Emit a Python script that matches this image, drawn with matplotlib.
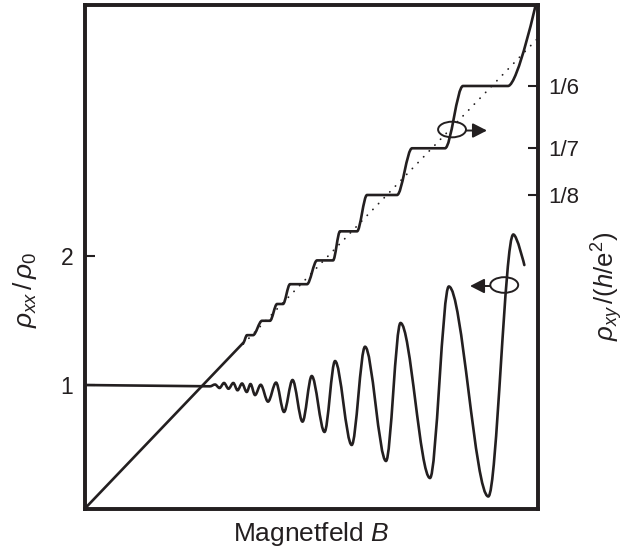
import matplotlib
matplotlib.use("Agg")
import matplotlib.pyplot as plt
from matplotlib.path import Path
from matplotlib.patches import PathPatch, Ellipse

plt.rcParams["font.family"] = ["Liberation Sans", "DejaVu Sans"]
plt.rcParams["mathtext.fontset"] = "custom"
plt.rcParams["mathtext.rm"] = "Liberation Sans"
plt.rcParams["mathtext.it"] = "Liberation Sans:italic"
plt.rcParams["mathtext.bf"] = "Liberation Sans:bold"

INK = "#231f20"

# rho_xx / rho_0 (left axis): flat part, then the extrema of the oscillations
B_xx_flat = [0.0, 0.2767]
rho_xx_flat = [1.000, 0.990]
B_xx_ext = [0.2878, 0.2977, 0.3076, 0.3175, 0.3281, 0.3374, 0.3473, 0.3577,
            0.3660, 0.3760, 0.3885, 0.4046, 0.4223, 0.4399, 0.4587, 0.4807,
            0.5010, 0.5292, 0.5524, 0.5892, 0.6185, 0.6648, 0.6968, 0.7618,
            0.8033, 0.8904, 0.9455]
rho_xx_ext = [1.004, 0.977, 1.016, 0.971, 1.016, 0.959, 1.012, 0.946,
              1.008, 0.922, 1.002, 0.871, 1.019, 0.791, 1.039, 0.716,
              1.070, 0.636, 1.186, 0.535, 1.297, 0.411, 1.481, 0.279,
              1.764, 0.136, 2.167]
B_xx_end = 0.9698
rho_xx_end = 1.930

# rho_xy / (h/e^2) (right axis): classical part and plateaus at 1/nu
B_hall_lin = [0.0, 0.3495]
rho_hall_lin = [0.005, 0.0684]
nu = [14, 13, 12, 11, 10, 9, 8, 7, 6]
B_plat_start = [0.3583, 0.3914, 0.4245, 0.4531, 0.5127, 0.5634, 0.6229, 0.7222, 0.8346]
B_plat_end = [0.3716, 0.4090, 0.4377, 0.4906, 0.5480, 0.6009, 0.6891, 0.7949, 0.9338]
B_hall_end = 0.998
rho_hall_end = 0.200

# classical Hall line (dotted)
B_classic = [0.35, 1.0]
rho_classic = [0.068, 0.185]

left_ticks = [1, 2]
left_ticklabels = ["1", "2"]
right_ticks = [1 / 6, 1 / 7, 1 / 8]
right_ticklabels = ["1/6", "1/7", "1/8"]


def add_curve(verts, codes, x0, y0, x1, y1, end_tangent=False):
    dx = x1 - x0
    c2 = (x1, y1) if end_tangent else (x1 - dx / 3, y1)
    verts += [(x0 + dx / 3, y0), c2, (x1, y1)]
    codes += [Path.CURVE4] * 3


fig = plt.figure(figsize=(6.27, 5.59), dpi=100)
ax = fig.add_axes([0.1348, 0.0903, 0.7233, 0.9016])
ax2 = ax.twinx()

ax.set_xlim(0, 1)
ax.set_ylim(0.0426, 3.9496)
ax2.set_ylim(0.00516, 0.1978)

# rho_xx path
verts = [(B_xx_flat[0], rho_xx_flat[0]), (B_xx_flat[1], rho_xx_flat[1])]
codes = [Path.MOVETO, Path.LINETO]
xs = [B_xx_flat[1]] + B_xx_ext
ys = [rho_xx_flat[1]] + rho_xx_ext
for i in range(1, len(xs)):
    add_curve(verts, codes, xs[i - 1], ys[i - 1], xs[i], ys[i])
add_curve(verts, codes, xs[-1], ys[-1], B_xx_end, rho_xx_end, end_tangent=True)
ax.add_patch(PathPatch(Path(verts, codes), fill=False, ec=INK, lw=1.9,
                       capstyle="round", joinstyle="round"))

# Hall path
verts = [(B_hall_lin[0], rho_hall_lin[0]), (B_hall_lin[1], rho_hall_lin[1])]
codes = [Path.MOVETO, Path.LINETO]
x_prev, y_prev = B_hall_lin[1], rho_hall_lin[1]
for n, bs, be in zip(nu, B_plat_start, B_plat_end):
    add_curve(verts, codes, x_prev, y_prev, bs, 1 / n)
    verts.append((be, 1 / n))
    codes.append(Path.LINETO)
    x_prev, y_prev = be, 1 / n
add_curve(verts, codes, x_prev, y_prev, B_hall_end, rho_hall_end, end_tangent=True)
ax2.add_patch(PathPatch(Path(verts, codes), fill=False, ec=INK, lw=1.9,
                        capstyle="round", joinstyle="round"))

ax2.plot(B_classic, rho_classic, color=INK, lw=1.3, linestyle=(0, (0.1, 4.4)),
         dash_capstyle="round")

# axis-assignment symbols
for (cx, cy), (x0, x1, ya) in [((0.8104, 0.752), (0.8412, 0.8875, 0.750)),
                               ((0.9255, 0.4435), (0.8942, 0.850, 0.4415))]:
    ax2.add_patch(Ellipse((cx, cy), 0.0615, 0.031, transform=ax2.transAxes,
                          fill=False, ec=INK, lw=1.4))
    ax2.annotate("", xy=(x1, ya), xytext=(x0, ya), xycoords="axes fraction",
                 arrowprops=dict(arrowstyle="-|>,head_length=0.43,head_width=0.22",
                                 color=INK, lw=1.4, mutation_scale=20,
                                 shrinkA=0, shrinkB=0))

ax.set_xticks([])
ax.set_yticks(left_ticks)
ax.set_yticklabels(left_ticklabels)
ax2.set_yticks(right_ticks)
ax2.set_yticklabels(right_ticklabels)
ax.tick_params(axis="y", direction="in", length=7, width=1.5, labelsize=16.5,
               pad=8, colors=INK)
ax2.tick_params(axis="y", direction="in", length=7, width=1.5, labelsize=16,
                pad=7, colors=INK)
for a in (ax, ax2):
    for s in a.spines.values():
        s.set_linewidth(2.6)
        s.set_color(INK)

ax.set_xlabel("Magnetfeld $B$", fontsize=19, color=INK, labelpad=8)
ax.set_ylabel(r"$\rho_{xx}\,/\,\rho_0$", fontsize=19, color=INK)
ax.yaxis.set_label_coords(-0.100, 0.4335)
ax2.set_ylabel(r"$\rho_{xy}\,/(h/\mathrm{e}^2)$", fontsize=18.5, color=INK)
ax2.yaxis.set_label_coords(1.112, 0.4405)

fig.savefig("out.png", dpi=100)
